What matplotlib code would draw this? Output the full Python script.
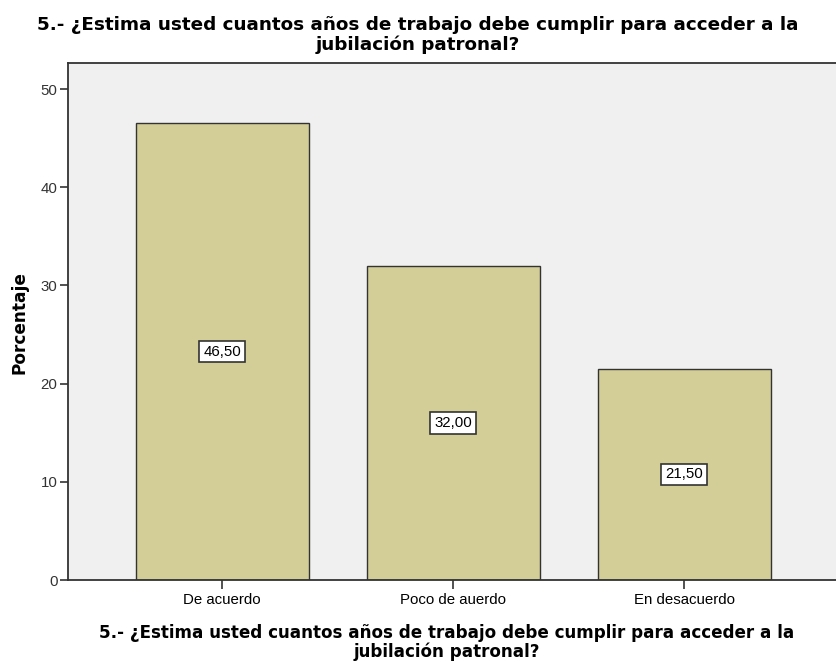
import matplotlib
matplotlib.use("Agg")
import matplotlib.pyplot as plt

categories = ["De acuerdo", "Poco de auerdo", "En desacuerdo"]
values = [46.50, 32.00, 21.50]
value_labels = ["46,50", "32,00", "21,50"]
yticks = [0, 10, 20, 30, 40, 50]
title = "5.- ¿Estima usted cuantos años de trabajo debe cumplir para acceder a la\njubilación patronal?"

plt.rcParams['font.family'] = ['Liberation Sans', 'DejaVu Sans']
W, H = 836, 662

fig = plt.figure(figsize=(W/100, H/100), dpi=100)
ax = fig.add_axes([68/W, 1-580/H, (836-68)/W, (580-63)/H])
ax.set_facecolor('#F0F0F0')

x = list(range(len(categories)))
ax.bar(x, values, width=0.749, color='#D3CE97', edgecolor='#333333', linewidth=1.0, zorder=2)
for xi, v, lab in zip(x, values, value_labels):
    ax.text(xi, v/2, lab, ha='center', va='center', fontsize=10.8, color='black', zorder=3,
            bbox=dict(boxstyle='square,pad=0.25', facecolor='white', edgecolor='#333333', linewidth=1.2))

ax.set_xlim(-0.667, 2.658)
ax.set_ylim(0, 52.65)
ax.set_yticks(yticks)
ax.set_yticklabels([str(t) for t in yticks], fontsize=10.8, color='#333333')
ax.set_xticks(x)
ax.set_xticklabels(categories, fontsize=10.8, color='black')
ax.tick_params(axis='x', length=6.5, width=1.2, color='#333333', direction='out', pad=2.9)
ax.tick_params(axis='y', length=6.0, width=1.2, color='#333333', direction='out', pad=1.5)
for name, s in ax.spines.items():
    s.set_color('#333333')
    s.set_linewidth(1.3)
ax.spines['right'].set_visible(False)

bold = dict(family=['DejaVu Sans'], fontweight='bold', color='black')
fig.text(418/W, 1-35/H, title, ha='center', va='center', fontsize=13.2, linespacing=1.05, **bold)
fig.text(447/W, 1-642.5/H, title, ha='center', va='center', fontsize=12.1, linespacing=1.1, **bold)
fig.text(19.5/W, 1-323/H, 'Porcentaje', ha='center', va='center', rotation=90, fontsize=12.2, **bold)

fig.savefig('out.png', dpi=100)
